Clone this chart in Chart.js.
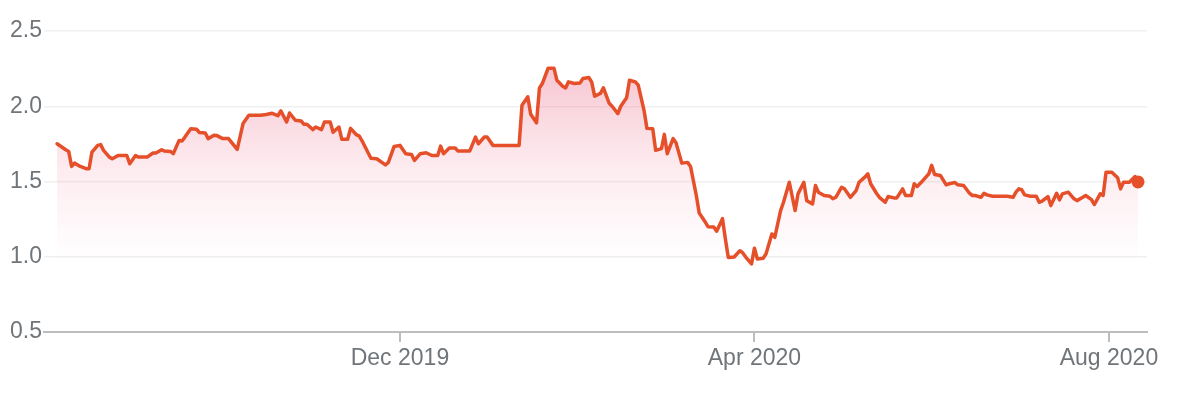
<!DOCTYPE html>
<html>
<head>
<meta charset="utf-8">
<script src="https://cdn.jsdelivr.net/npm/chart.js@4"></script>
<style>
  html, body { margin: 0; padding: 0; background: #ffffff; }
  #c { display: block; }
</style>
</head>
<body>
<canvas id="c" width="1189" height="393"></canvas>
<script>
// x values: calendar days since 2019-08-01
const days = [
  4,7,8,9,10,12,14,15,16,18,
  19,20,22,23,25,28,29,31,32,35,
  37,38,40,41,43,44,46,47,48,50,
  52,53,55,56,58,59,61,63,66,68,
  70,74,76,78,80,81,83,84,86,88,
  89,90,92,93,95,96,98,99,101,102,
  104,105,107,108,109,112,114,117,118,120,
  122,124,126,127,129,131,133,135,136,137,
  139,141,142,146,148,149,151,152,154,163,
  164,166,167,169,170,171,173,175,176,178,
  179,180,182,184,185,187,188,189,191,192,
  194,195,197,198,200,201,203,204,206,207,
  209,210,212,213,214,216,217,219,221,222,
  224,225,227,228,230,231,233,234,235,237,
  239,240,241,243,244,245,247,248,250,251,
  253,254,256,258,259,261,262,264,265,266,
  268,270,271,272,274,275,277,279,280,282,
  283,284,286,287,289,290,292,293,295,296,
  298,299,300,302,304,305,306,308,310,311,
  313,314,316,318,319,320,322,323,324,326,
  331,333,334,335,336,337,339,341,342,343,
  345,346,348,349,350,352,354,355,357,358,
  360,361,363,364,365,367,369,370,371,373,
  375,376
];

const prices = [
  1.751,1.711,1.700,1.600,1.622,1.600,1.585,1.585,1.695,1.740,
  1.745,1.707,1.662,1.651,1.673,1.673,1.618,1.673,1.662,1.662,
  1.689,1.689,1.711,1.702,1.700,1.685,1.773,1.769,1.795,1.851,
  1.847,1.825,1.822,1.785,1.807,1.805,1.785,1.785,1.713,1.885,
  1.940,1.940,1.945,1.953,1.937,1.969,1.895,1.955,1.907,1.902,
  1.880,1.880,1.845,1.862,1.845,1.895,1.895,1.827,1.862,1.780,
  1.780,1.853,1.811,1.802,1.769,1.655,1.651,1.610,1.627,1.733,
  1.740,1.685,1.680,1.640,1.685,1.691,1.673,1.673,1.735,1.685,
  1.722,1.722,1.702,1.702,1.795,1.751,1.795,1.795,1.740,1.740,
  2.007,2.063,1.947,1.890,2.120,2.151,2.253,2.253,2.173,2.133,
  2.122,2.162,2.151,2.155,2.185,2.191,2.160,2.067,2.085,2.123,
  2.020,2.000,1.951,2.000,2.057,2.173,2.162,2.140,1.973,1.853,
  1.850,1.707,1.718,1.813,1.685,1.785,1.757,1.622,1.627,1.600,
  1.407,1.290,1.233,1.200,1.198,1.170,1.253,1.118,0.995,0.998,
  1.040,1.025,0.998,0.953,1.057,0.985,0.990,1.020,1.151,1.129,
  1.307,1.362,1.495,1.307,1.418,1.495,1.373,1.351,1.473,1.429,
  1.407,1.402,1.385,1.395,1.462,1.451,1.395,1.440,1.495,1.529,
  1.551,1.485,1.422,1.395,1.362,1.400,1.391,1.391,1.451,1.407,
  1.407,1.485,1.467,1.507,1.551,1.607,1.547,1.540,1.478,1.485,
  1.493,1.478,1.473,1.422,1.407,1.407,1.395,1.422,1.411,1.402,
  1.402,1.395,1.429,1.451,1.445,1.411,1.402,1.402,1.362,1.369,
  1.400,1.340,1.422,1.378,1.418,1.429,1.385,1.373,1.395,1.407,
  1.380,1.347,1.418,1.407,1.562,1.562,1.525,1.451,1.495,1.495,
  1.533,1.497
];

// x tick positions (days since 2019-08-01) and their labels
const tickDays = [122, 244, 366];
const tickLabels = ["Dec 2019", "Apr 2020", "Aug 2020"];

// y tick values
const yTicks = [0.5, 1.0, 1.5, 2.0, 2.5];

const LINE = '#e5502a';
const FONT = { family: "'Liberation Sans', Arial, sans-serif", size: 23 };
const TEXT = '#70757a';

const points = days.map((d, i) => ({ x: d, y: prices[i] }));
const lastIndex = points.length - 1;

function fillGradient(context) {
  const chart = context.chart;
  const area = chart.chartArea;
  if (!area) return 'rgba(232,90,120,0.2)';
  const g = chart.ctx.createLinearGradient(0, area.top + 30, 0, area.bottom - 70);
  g.addColorStop(0, 'rgba(228,70,110,0.33)');
  g.addColorStop(0.55, 'rgba(240,110,140,0.13)');
  g.addColorStop(1, 'rgba(240,120,150,0.0)');
  return g;
}

new Chart(document.getElementById('c'), {
  type: 'line',
  data: {
    datasets: [{
      data: points,
      borderColor: LINE,
      borderWidth: 3.5,
      borderJoinStyle: 'round',
      borderCapStyle: 'round',
      tension: 0,
      fill: { target: { value: 0.95 } },
      backgroundColor: fillGradient,
      pointRadius: (ctx) => ctx.dataIndex === lastIndex ? 6.5 : 0,
      pointBackgroundColor: LINE,
      pointBorderWidth: 0,
      pointHoverRadius: 0
    }]
  },
  options: {
    responsive: false,
    animation: false,
    events: [],
    layout: { padding: { top: 31, right: 42, left: 0, bottom: 0 } },
    plugins: { legend: { display: false }, tooltip: { enabled: false } },
    scales: {
      x: {
        type: 'linear',
        min: -0.5,
        max: 379.1,
        afterFit: (s) => { s.height = 61; },
        afterBuildTicks: (s) => { s.ticks = tickDays.map(v => ({ value: v })); },
        border: { display: true, color: '#bdbdbd', width: 2 },
        grid: { drawOnChartArea: false, drawTicks: true, tickLength: 10, color: '#bdbdbd', lineWidth: 2 },
        ticks: {
          autoSkip: false,
          maxRotation: 0,
          padding: 3,
          color: TEXT,
          font: FONT,
          callback: (v) => tickLabels[tickDays.indexOf(v)]
        }
      },
      y: {
        type: 'linear',
        min: 0.5,
        max: 2.5,
        afterFit: (s) => { s.width = 44; },
        afterBuildTicks: (s) => { s.ticks = yTicks.map(v => ({ value: v })); },
        border: { display: false },
        grid: { drawTicks: false, color: '#f0f0f0', lineWidth: 1.5 },
        ticks: {
          padding: 2,
          color: TEXT,
          font: FONT,
          callback: (v) => Number(v).toFixed(1)
        }
      }
    }
  }
});
</script>
</body>
</html>
